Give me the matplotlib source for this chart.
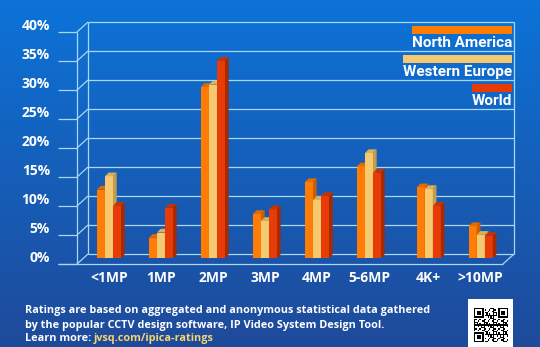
import numpy as np
import matplotlib
matplotlib.use("Agg")
import matplotlib.pyplot as plt
from matplotlib.patches import Polygon, Rectangle
from matplotlib.transforms import Affine2D

# ---- data -------------------------------------------------------------
categories = ["<1MP", "1MP", "2MP", "3MP", "4MP", "5-6MP", "4K+", ">10MP"]
north_america = [11.8, 3.5, 29.5, 7.6, 13.1, 15.8, 12.2, 5.5]
western_europe = [14.1, 4.4, 29.9, 6.4, 10.0, 18.1, 11.9, 4.0]
world = [9.0, 8.7, 34.0, 8.4, 10.7, 14.7, 9.0, 3.8]
series_names = ["North America", "Western Europe", "World"]
y_ticks = [0, 5, 10, 15, 20, 25, 30, 35, 40]
tick_labels = [f"{t}%" for t in y_ticks]
footer_lines = [
    "Ratings are based on aggregated and anonymous statistical data gathered",
    "by the popular CCTV design software, IP Video System Design Tool.",
]
learn_more = "Learn more: "
url = "jvsq.com/ipica-ratings"

# ---- layout -----------------------------------------------------------
W, H = 540, 347
group_pos = [0, 1, 2, 3, 4, 5, 6.15, 7.15]
bar_w = 0.154
xmin, xmax = -0.615, 7.578
depth_x, depth_y = 0.2115, 1.724      # back wall offset (data units)
bar_dx, bar_dy = 0.071, 0.64          # bar depth (data units)
bar_base = 1.03
line_col = "#a8d8f2"

face_cols = ["#ff7d05", "#f4c972", "#e83c08"]
top_cols = ["#e56a00", "#d9b05c", "#c93200"]
side_cols = ["#cc5d00", "#c49d4c", "#a82900"]

fig = plt.figure(figsize=(W / 100, H / 100), dpi=100)
PX = Affine2D().scale(1 / W, -1 / H).translate(0, 1) + fig.transFigure

# background gradient
bg = fig.add_axes([0, 0, 1, 1], zorder=-5)
top_c = np.array([0x0c, 0x73, 0xd8]) / 255
bot_c = np.array([0x1f, 0x4a, 0x9a]) / 255
t = np.linspace(0, 1, 256)[:, None, None]
grad = top_c * (1 - t) + bot_c * t
bg.imshow(np.repeat(grad, 2, axis=1), aspect="auto", extent=[0, 1, 0, 1])
bg.set_axis_off()

ax = fig.add_axes([77 / W, (H - 264) / H, 426 / W, 232 / H])
ax.set_xlim(xmin, xmax)
ax.set_ylim(0, 40)
ax.set_axis_off()
ax.patch.set_alpha(0)

lw = 0.9
kw = dict(color=line_col, lw=lw, clip_on=False, solid_capstyle="butt")
# back wall grid
for yt in y_ticks:
    ax.plot([xmin + depth_x, xmax + depth_x], [yt + depth_y] * 2, zorder=1, **kw)
    ax.plot([xmin, xmin + depth_x], [yt, yt + depth_y], zorder=1, **kw)
    ax.plot([xmin - 0.365, xmin], [yt, yt], zorder=1, **kw)
ax.plot([xmin + depth_x] * 2, [depth_y, 40 + depth_y], zorder=1, **kw)
ax.plot([xmax + depth_x] * 2, [depth_y, 40 + depth_y], zorder=1, **kw)
ax.plot([xmin] * 2, [0, 40], zorder=1, **kw)
# floor front edge
ax.plot([xmin - 0.365, xmax], [0, 0], zorder=1, **kw)
ax.plot([xmax, xmax + depth_x], [0, depth_y], zorder=1, **kw)

for yt, lab in zip(y_ticks, tick_labels):
    ax.text(xmin - 0.52, yt + 1.1, lab, ha="right", va="center", color="white",
            fontsize=10, fontweight="bold", family="Open Sans")


def bar3d(x0, h, k, z):
    y0 = bar_base
    ax.add_patch(Rectangle((x0, y0), bar_w, h, fc=face_cols[k], ec="none", zorder=z))
    ax.add_patch(Polygon([(x0, y0 + h), (x0 + bar_w, y0 + h),
                          (x0 + bar_w + bar_dx, y0 + h + bar_dy), (x0 + bar_dx, y0 + h + bar_dy)],
                         closed=True, fc=top_cols[k], ec="none", zorder=z))
    ax.add_patch(Polygon([(x0 + bar_w, y0), (x0 + bar_w + bar_dx, y0 + bar_dy),
                          (x0 + bar_w + bar_dx, y0 + h + bar_dy), (x0 + bar_w, y0 + h)],
                         closed=True, fc=side_cols[k], ec="none", zorder=z))


series = [north_america, western_europe, world]
for gi, gx in enumerate(group_pos):
    for k, vals in enumerate(series):
        x0 = gx - 1.5 * bar_w + k * bar_w
        bar3d(x0, vals[gi], k, 3 + k)
    ax.text(gx, -2.45, categories[gi], ha="center", va="center", color="white",
            fontsize=10, fontweight="bold", family="Open Sans")

# legend (right aligned, swatch as wide as the label)
fig.canvas.draw()
renderer = fig.canvas.get_renderer()
for k, name in enumerate(series_names):
    txt = fig.text(512, 47 + 29 * k, name, transform=PX, ha="right", va="baseline",
                   color="white", fontsize=11, fontweight="bold", family="Roboto")
    bb = txt.get_window_extent(renderer)
    fig.patches.append(Rectangle((512 - bb.width, 26 + 29 * k), bb.width, 7.5, transform=PX,
                                 fc=face_cols[k], ec="none", figure=fig))

# footer
fs_foot = 7.85
for i, line in enumerate(footer_lines):
    fig.text(25, 313 + 15 * i, line, transform=PX, ha="left", va="baseline",
             color="white", fontsize=fs_foot, fontweight="bold", family="Open Sans")
lm = fig.text(25, 341, learn_more, transform=PX, ha="left", va="baseline",
              color="white", fontsize=fs_foot, fontweight="bold", family="Open Sans")
bb = lm.get_window_extent(renderer)
fig.text(25 + bb.width, 341, url, transform=PX, ha="left", va="baseline",
         color="#f5d66c", fontsize=fs_foot, fontweight="bold", family="Open Sans")

# QR badge
qbg = fig.add_axes([468 / W, 0, 45 / W, 1 - 299 / H], zorder=5)
qbg.set_facecolor("white")
qbg.set_xticks([])
qbg.set_yticks([])
for s in qbg.spines.values():
    s.set_visible(False)
n = 25
qr = np.zeros((n, n))
ii, jj = np.meshgrid(np.arange(n), np.arange(n), indexing="ij")
qr[((ii * 7 + jj * 13 + ii * jj * 3) % 7) < 3] = 1
for (r, c) in [(0, 0), (0, n - 7), (n - 7, 0)]:
    qr[max(r - 1, 0):r + 8, max(c - 1, 0):c + 8] = 0
    qr[r:r + 7, c:c + 7] = 1
    qr[r + 1:r + 6, c + 1:c + 6] = 0
    qr[r + 2:r + 5, c + 2:c + 5] = 1
qax = fig.add_axes([474 / W, 1 - 342 / H, 34 / W, 34 / H], zorder=6)
qax.imshow(1 - qr, cmap="gray", interpolation="nearest", vmin=0, vmax=1)
qax.set_axis_off()

fig.savefig("out.png", dpi=100)
